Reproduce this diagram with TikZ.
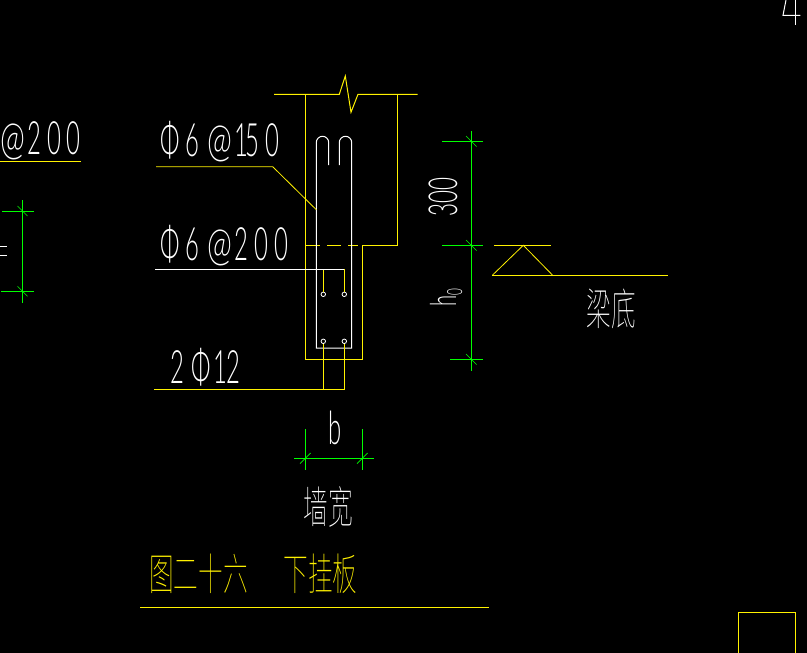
\documentclass[tikz,border=0pt]{standalone}
\usepackage{fontspec}
\usepackage{graphicx}
\usepackage{tikz}
\usetikzlibrary{positioning}
\newfontfamily\cadfont[LetterSpace=25]{Lato Light}
\newfontfamily\cadplain{Lato Light}
\newfontfamily\cjkfont{Noto Sans CJK SC Thin}
\newcommand{\wideat}{\scalebox{1.25}[1]{@}}
\tikzset{
	yline/.style={draw=yellow, line width=1pt},
	yfine/.style={draw=yellow, line width=0.8pt},
	wline/.style={draw=white, line width=1pt},
	dimline/.style={draw=green, line width=1pt},
	dimtick/.style={draw=green, line width=0.6pt},
	barnode/.style={circle, draw=white, line width=0.8pt, inner sep=0pt, minimum size=4.5pt},
	cadtext/.style={text=white, inner sep=0pt, xscale=0.52, font=\cadfont\fontsize{46}{46}\selectfont},
	cadside/.style={rotate=90, text=white, inner sep=0pt, xscale=0.56, anchor=base},
	cjktext/.style={inner sep=0pt, xscale=0.56, font=\cjkfont\fontsize{44}{44}\selectfont},
}
\begin{document}
\begin{tikzpicture}[x=1pt, y=-1pt]
		\fill[black] (0,0) rectangle (807,653);
		\useasboundingbox (0,0) rectangle (807,653);
		\clip (0,0) rectangle (807,653);
		
		% wall outline
		\coordinate (w1) at (305.3,94.3);
		\coordinate (w2) at (305.3,359);
		\coordinate (w3) at (362.3,359);
		\coordinate (w4) at (362.3,245.3);
		\coordinate (w5) at (397.3,245.3);
		\coordinate (w6) at (397.3,94.3);
		\draw[yline] (w1) -- (w2) -- (w3) -- (w4) -- (w5) -- (w6);
		\draw[yline] (274,94.3) -- (339.3,94.3) -- (345.3,76) -- (351,112.3) -- (358,94.3) -- (417.7,94.3);
		\draw[yline] (305.3,245.3) -- (320,245.3);
		\draw[yline] (327,245.3) -- (341,245.3);
		\draw[yline] (348,245.3) -- (358,245.3);
		
		% stirrup
		\draw[wline] (328.7,165) -- (328.7,142.5) arc[start angle=0, end angle=-180, radius=6.2] -- (316.3,348) -- (351.7,348) -- (351.7,142.5) arc[start angle=0, end angle=-180, radius=6.2] -- (339.3,165);
		
		% bars
		\node[barnode] (b1) at (323.3,294.3) {};
		\node[barnode] (b2) at (344.3,294.3) {};
		\node[barnode] (b3) at (323.3,341.3) {};
		\node[barnode] (b4) at (344.3,341.3) {};
		
		% leaders
		\coordinate (l1) at (323.3,269.3);
		\coordinate (l2) at (344.3,269.3);
		\coordinate (l3) at (323.3,389.3);
		\coordinate (l4) at (344.3,389.3);
		\draw[yline] (l1) -- (b1);
		\draw[yline] (l2) -- (b2);
		\draw[yline] (b3) -- (l3);
		\draw[yline] (b4) -- (l4) -- (154,389.3);
		\draw[wline] (155,269.3) -- (l2);
		\draw[yfine] (156,166.7) -- (272.7,166.7) -- (316.3,209.7);
		
		% labels
		\node[cadtext, anchor=base west] (t150) at (160,156) {Φ6\hspace{16pt}\wideat\hspace{4pt}1\hspace{-6pt}50};
		\node[cadtext, anchor=base west] (t200) at (160,260) {Φ6\hspace{16pt}\wideat\hspace{4pt}200};
		\node[cadtext, anchor=base west] (t12) at (170,383) {2\hspace{15pt}Φ\hspace{5pt}1\hspace{-2pt}2};
		\node[cadtext, anchor=base east] (tleft) at (81,154) {\wideat\hspace{4pt}200};
		\draw[yline] (0,161.3) -- (81,161.3);
		
		% left dimension
		\draw[dimline] (22.5,200) -- (22.5,302.7);
		\draw[dimline] (2,211) -- (34,211);
		\draw[dimline] (1,291.3) -- (34,291.3);
		\draw[dimtick] (17.5,206) -- (27.5,216);
		\draw[dimtick] (17.5,286.3) -- (27.5,296.3);
		\draw[wline] (0,246.3) -- (7,246.3);
		\draw[wline] (0,255.7) -- (7,255.7);
		
		% right dimension
		\draw[dimline] (471.3,131) -- (471.3,370.7);
		\draw[dimline] (442,141.3) -- (482.7,141.3);
		\draw[dimline] (442,245.3) -- (482.7,245.3);
		\draw[dimline] (450,359.3) -- (482.7,359.3);
		\draw[dimtick] (466,136) -- (476.6,146.6);
		\draw[dimtick] (466,240) -- (476.6,250.6);
		\draw[dimtick] (466,354) -- (476.6,364.6);
		\node[cadside, font=\cadplain\fontsize{40}{40}\selectfont] (t300) at (457,197) {300};
		\node[cadside, font=\cadplain\fontsize{36}{36}\selectfont] (th0) at (456,298) {h\raisebox{-6pt}{\fontsize{21}{21}\selectfont 0}};
		
		% level mark
		\coordinate (m1) at (523.3,245.3);
		\coordinate (m2) at (492.3,275.3);
		\coordinate (m3) at (552.7,275.3);
		\draw[yline] (494,245.3) -- (550.7,245.3);
		\draw[yline] (m2) -- (667.7,275.3);
		\draw[yfine] (m2) -- (m1) -- (m3);
		\node[cjktext, text=white] (tbase) at (611,308.5) {梁底};
		
		% width dimension
		\draw[dimline] (305.3,429) -- (305.3,469.7);
		\draw[dimline] (362.3,429) -- (362.3,469.7);
		\draw[dimline] (294,458.3) -- (373.7,458.3);
		\draw[dimtick] (300,463.6) -- (310.6,453);
		\draw[dimtick] (357,463.6) -- (367.6,453);
		\node[cadtext, anchor=base] (tb) at (335,444) {b};
		\node[cjktext, text=white] (twidth) at (328,506.5) {墙宽};
		
		% title
		\node[cjktext, text=yellow, anchor=west] (ttitle) at (149,574) {图二十六\hspace{1.45em}下挂板};
		\draw[yline] (140,607.3) -- (489,607.3);
		
		% corner marks
		\draw[wline] (786,0) -- (783,15.3) -- (800.3,15.3);
		\draw[wline] (795.3,0) -- (795.3,24.5);
		\draw[yline] (738.3,653) -- (738.3,612.7) -- (795.3,612.7) -- (795.3,653);
\end{tikzpicture}
\end{document}
